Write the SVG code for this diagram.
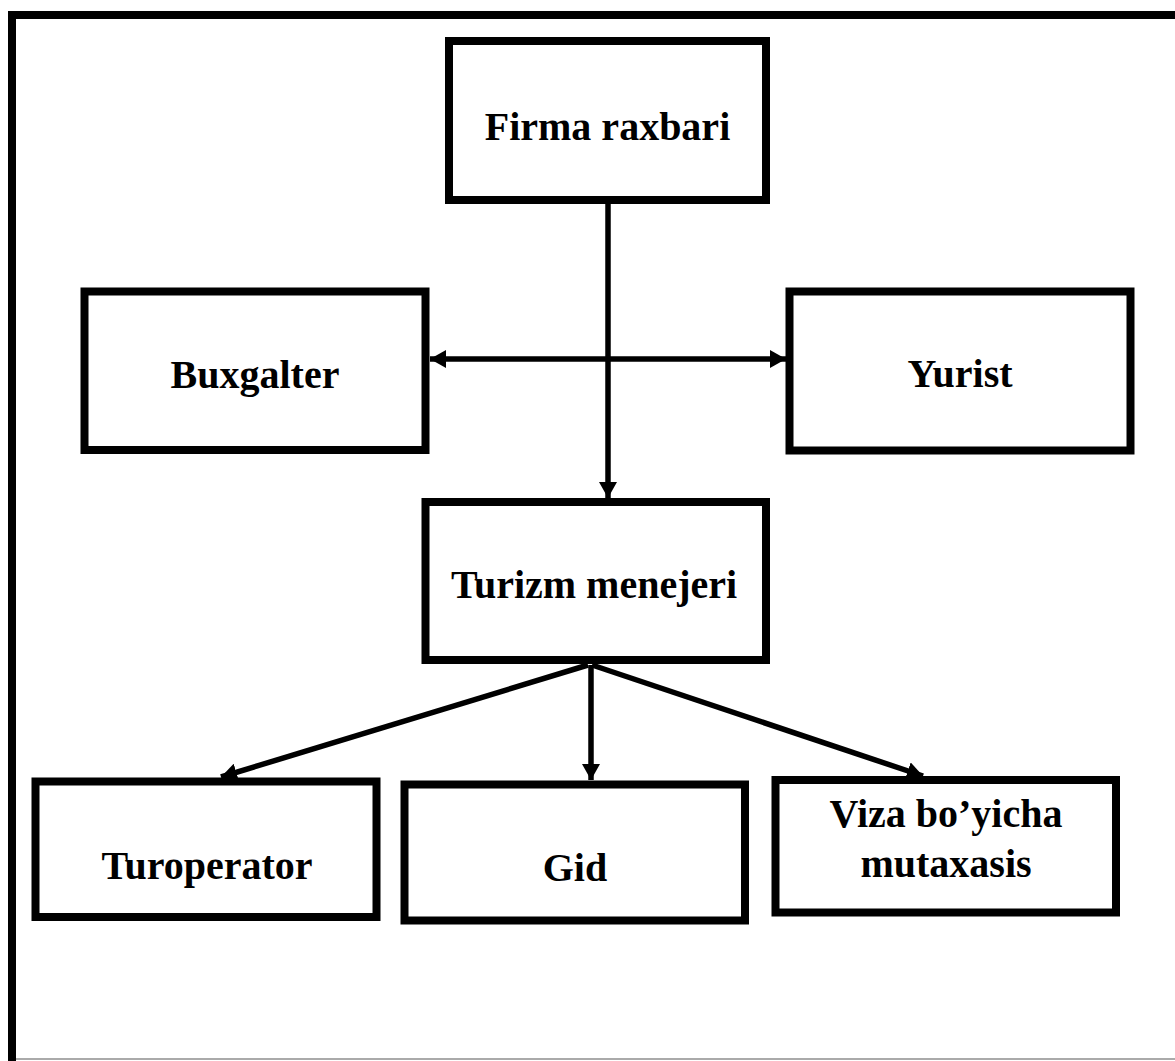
<svg xmlns="http://www.w3.org/2000/svg" width="1175" height="1061" viewBox="0 0 1175 1061">
<style>
.box{fill:#fff;stroke:#000;stroke-width:8}
.lbl{font-family:"Liberation Serif","Times New Roman",serif;font-weight:bold;font-size:40px;fill:#000;text-anchor:middle}
.con{stroke:#000;stroke-width:5.5;fill:none}
</style>
<defs>
<marker id="ah" viewBox="0 0 16 18" refX="16" refY="9" markerWidth="16" markerHeight="18" markerUnits="userSpaceOnUse" orient="auto-start-reverse">
<path d="M0,0 L16,9 L0,18 Z" fill="#000"/>
</marker>
</defs>
<rect width="1175" height="1061" fill="#fff"/>
<g id="frame">
<path d="M12,1061 V15 H1175" fill="none" stroke="#000" stroke-width="8"/>
<line x1="16" y1="1059" x2="1175" y2="1059" stroke="#aaa" stroke-width="2"/>
</g>
<g id="connectors">
<line class="con" x1="608" y1="204" x2="608" y2="498" marker-end="url(#ah)"/>
<line class="con" x1="430" y1="359" x2="786" y2="359" marker-start="url(#ah)" marker-end="url(#ah)"/>
<line class="con" x1="588" y1="665" x2="221" y2="777" marker-end="url(#ah)"/>
<line class="con" x1="591" y1="665" x2="591" y2="780" marker-end="url(#ah)"/>
<line class="con" x1="592" y1="665" x2="923" y2="776" marker-end="url(#ah)"/>
</g>
<g id="firma">
<rect class="box" x="449" y="41" width="317" height="159"/>
<text class="lbl" x="607.5" y="140">Firma raxbari</text>
</g>
<g id="buxgalter">
<rect class="box" x="84.5" y="291.5" width="341" height="158.5"/>
<text class="lbl" x="255" y="388">Buxgalter</text>
</g>
<g id="yurist">
<rect class="box" x="789.5" y="291.5" width="341" height="159"/>
<text class="lbl" x="960" y="387">Yurist</text>
</g>
<g id="turizm">
<rect class="box" x="425.5" y="502" width="340.5" height="158"/>
<text class="lbl" x="594" y="598">Turizm menejeri</text>
</g>
<g id="turoperator">
<rect class="box" x="35.5" y="781.5" width="341" height="135.5"/>
<text class="lbl" x="207" y="879">Turoperator</text>
</g>
<g id="gid">
<rect class="box" x="404.5" y="784.5" width="340.5" height="136"/>
<text class="lbl" x="575" y="881">Gid</text>
</g>
<g id="viza">
<rect class="box" x="775.5" y="780" width="340.5" height="132.5"/>
<text class="lbl" x="946" y="827">Viza bo’yicha</text>
<text class="lbl" x="946" y="877">mutaxasis</text>
</g>
</svg>
